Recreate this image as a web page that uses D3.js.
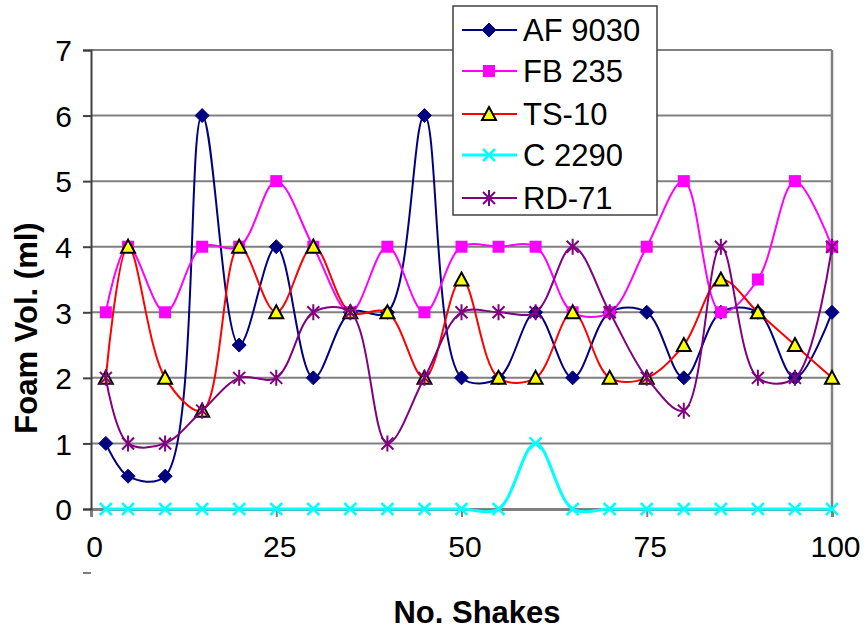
<!DOCTYPE html>
<html><head><meta charset="utf-8">
<script src="https://cdn.jsdelivr.net/npm/d3@7"></script>
<style>html,body{margin:0;padding:0;background:#fff;}svg{display:block;font-family:"Liberation Sans",Arial,sans-serif;}</style>
</head><body>
<svg id="chart" width="867" height="632"></svg>
<script>
const shakes = [2,5,10,15,20,25,30,35,40,45,50,55,60,65,70,75,80,85,90,95,100];
const af9030 = [1,0.5,0.5,6,2.5,4,2,3,3,6,2,2,3,2,3,3,2,3,3,2,3];
const fb235  = [3,4,3,4,4,5,4,3,4,3,4,4,4,3,3,4,5,3,3.5,5,4];
const ts10   = [2,4,2,1.5,4,3,4,3,3,2,3.5,2,2,3,2,2,2.5,3.5,3,2.5,2];
const c2290  = [0,0,0,0,0,0,0,0,0,0,0,0,1,0,0,0,0,0,0,0,0];
const rd71   = [2,1,1,1.5,2,2,3,3,1,2,3,3,3,4,3,2,1.5,4,2,2,4];
const seriesNames = ["AF 9030","FB 235","TS-10","C 2290","RD-71"];
const xTicks = [0,25,50,75,100];
const yTicks = [0,1,2,3,4,5,6,7];

const series = [
  {name: seriesNames[0], values: af9030, color:"#000080", marker:"diamond", w:2},
  {name: seriesNames[1], values: fb235,  color:"#FF00FF", marker:"square", w:2},
  {name: seriesNames[2], values: ts10,   color:"#FF0000", marker:"triangle", w:2},
  {name: seriesNames[3], values: c2290,  color:"#00FFFF", marker:"x", w:3},
  {name: seriesNames[4], values: rd71,   color:"#800080", marker:"star", w:2}
];

const svg = d3.select("#chart");
const L = 91, R = 832, T = 50, B = 509;
const x = d3.scaleLinear().domain([0,100]).range([L,R]);
const y = d3.scaleLinear().domain([0,7]).range([B,T]);

// gridlines
svg.append("g").selectAll("line").data(yTicks.filter(d=>d>0)).join("line")
  .attr("x1",L).attr("x2",R).attr("y1",d=>y(d)).attr("y2",d=>y(d))
  .attr("stroke","#808080").attr("stroke-width",2);
// plot right border
svg.append("line").attr("x1",R).attr("x2",R).attr("y1",T).attr("y2",B)
  .attr("stroke","#808080").attr("stroke-width",2.5);

// x axis
const xAxis = svg.append("g").attr("transform",`translate(0,${B})`)
  .call(d3.axisBottom(x).tickValues(xTicks).tickSize(8).tickFormat(d3.format("d")));
xAxis.select(".domain").attr("stroke","#808080").attr("stroke-width",3);
xAxis.selectAll(".tick line").attr("stroke","#808080").attr("stroke-width",2);
xAxis.selectAll(".tick text").attr("font-size",30).attr("fill","#000")
  .attr("font-family","Liberation Sans, Arial, sans-serif").attr("y",27).attr("dy","0.71em").attr("dx",3);

// y axis
const yAxis = svg.append("g").attr("transform",`translate(${L},0)`)
  .call(d3.axisLeft(y).tickValues(yTicks).tickSize(8).tickFormat(d3.format("d")));
yAxis.select(".domain").attr("stroke","#404040").attr("stroke-width",2);
yAxis.selectAll(".tick line").attr("stroke","#404040").attr("stroke-width",2);
yAxis.selectAll(".tick text").attr("font-size",30).attr("fill","#000")
  .attr("font-family","Liberation Sans, Arial, sans-serif").attr("x",-19).attr("dy","0.36em");

// small stray dash
svg.append("line").attr("x1",83).attr("x2",91).attr("y1",573).attr("y2",573)
  .attr("stroke","#808080").attr("stroke-width",2);

// titles
svg.append("text").attr("x",477).attr("y",623).attr("text-anchor","middle")
  .attr("font-size",31).attr("font-weight","bold").text("No. Shakes");
svg.append("text").attr("transform","translate(37,328) rotate(-90)").attr("text-anchor","middle")
  .attr("font-size",31).attr("font-weight","bold").text("Foam Vol. (ml)");

const line = d3.line().x(d=>x(d[0])).y(d=>y(d[1])).curve(d3.curveCatmullRom.alpha(0.5));

function drawMarker(g, type, color, cx, cy){
  if(type==="diamond"){
    g.append("path").attr("d",`M${cx},${cy-7}L${cx+7},${cy}L${cx},${cy+7}L${cx-7},${cy}Z`).attr("fill",color).attr("stroke",color);
  } else if(type==="square"){
    g.append("rect").attr("x",cx-6).attr("y",cy-6).attr("width",12).attr("height",12).attr("fill",color);
  } else if(type==="triangle"){
    g.append("path").attr("d",`M${cx},${cy-7}L${cx+7},${cy+6}L${cx-7},${cy+6}Z`).attr("fill","#FFFF00").attr("stroke","#000").attr("stroke-width",2);
  } else if(type==="x"){
    g.append("path").attr("d",`M${cx-6},${cy-6}L${cx+6},${cy+6}M${cx-6},${cy+6}L${cx+6},${cy-6}`).attr("stroke",color).attr("stroke-width",2.5);
  } else if(type==="star"){
    g.append("path").attr("d",`M${cx-6},${cy-6}L${cx+6},${cy+6}M${cx-6},${cy+6}L${cx+6},${cy-6}M${cx},${cy-8}L${cx},${cy+8}`).attr("stroke",color).attr("stroke-width",2);
  }
}

series.forEach(s=>{
  const pts = shakes.map((d,i)=>[d,s.values[i]]);
  const g = svg.append("g");
  g.append("path").attr("d",line(pts)).attr("fill","none").attr("stroke",s.color).attr("stroke-width",s.w);
  pts.forEach(p=>drawMarker(g,s.marker,s.color,x(p[0]),y(p[1])));
});

// legend
const lg = svg.append("g");
lg.append("rect").attr("x",453).attr("y",6).attr("width",204).attr("height",209)
  .attr("fill","#fff").attr("stroke","#404040").attr("stroke-width",1.5);
const rowY = [30,71,114,155,198];
series.forEach((s,i)=>{
  const yy = rowY[i];
  lg.append("line").attr("x1",462).attr("x2",517).attr("y1",yy).attr("y2",yy).attr("stroke",s.color).attr("stroke-width",s.w);
  drawMarker(lg,s.marker,s.color,489,yy);
  lg.append("text").attr("x",523).attr("y",yy).attr("dy","0.36em").attr("font-size",31).text(s.name);
});
</script>
</body></html>
